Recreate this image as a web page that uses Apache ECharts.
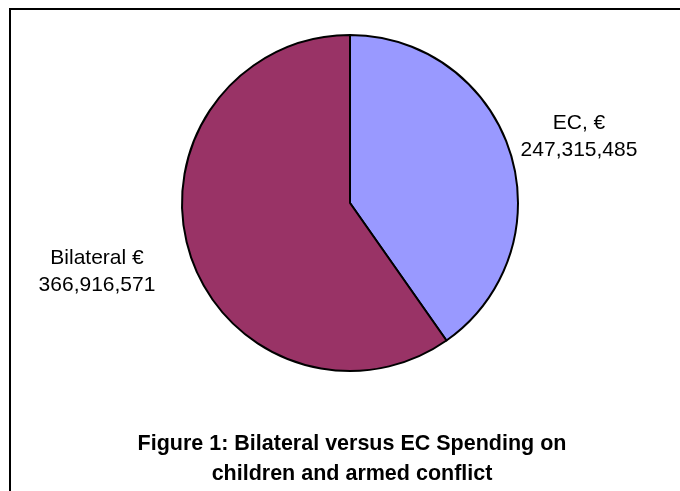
<!DOCTYPE html>
<html>
<head>
<meta charset="utf-8">
<script src="https://cdn.jsdelivr.net/npm/echarts@6/dist/echarts.min.js"></script>
<style>
html,body{margin:0;padding:0;background:#fff;}
#chart{width:680px;height:491px;}
</style>
</head>
<body>
<div id="chart"></div>
<script>
var categories = ['EC, €', 'Bilateral €'];
var values = [247315485, 366916571];
var sliceColors = ['#9999FF', '#993366'];
var titleLines = ['Figure 1: Bilateral versus EC Spending on', 'children and armed conflict'];

function fmt(n){ return n.toString().replace(/\B(?=(\d{3})+(?!\d))/g, ','); }

var labelPos = [
  {x: 579, y: 137},
  {x: 97, y: 272}
];

var chart = echarts.init(document.getElementById('chart'));
chart.setOption({
  backgroundColor: '#fff',
  animation: false,
  graphic: [{
    type: 'rect',
    shape: {x: 10, y: 9, width: 700, height: 520},
    style: {fill: 'none', stroke: '#000', lineWidth: 2}
  }],
  title: {
    text: titleLines.join('\n'),
    left: 347,
    top: 424,
    textAlign: 'center',
    textStyle: {fontFamily: 'Liberation Sans, Arial, sans-serif', fontWeight: 'bold', fontSize: 21.5, lineHeight: 30, color: '#000'}
  },
  series: [{
    type: 'pie',
    center: [350, 203],
    radius: 168,
    startAngle: 90,
    clockwise: true,
    data: categories.map(function(c, i){
      return {name: c, value: values[i], itemStyle: {color: sliceColors[i]}};
    }),
    itemStyle: {borderColor: '#000', borderWidth: 2},
    label: {
      show: true,
      position: 'inside',
      formatter: function(p){ return p.name + '\n' + fmt(p.value); },
      fontFamily: 'Liberation Sans, Arial, sans-serif',
      fontSize: 21,
      lineHeight: 27,
      color: '#000',
      align: 'center',
      overflow: 'none'
    },
    labelLine: {show: false},
    labelLayout: function(params){
      var p = labelPos[params.dataIndex];
      return {x: p.x, y: p.y, align: 'center', verticalAlign: 'middle'};
    },
    emphasis: {disabled: true}
  }]
});
</script>
</body>
</html>
